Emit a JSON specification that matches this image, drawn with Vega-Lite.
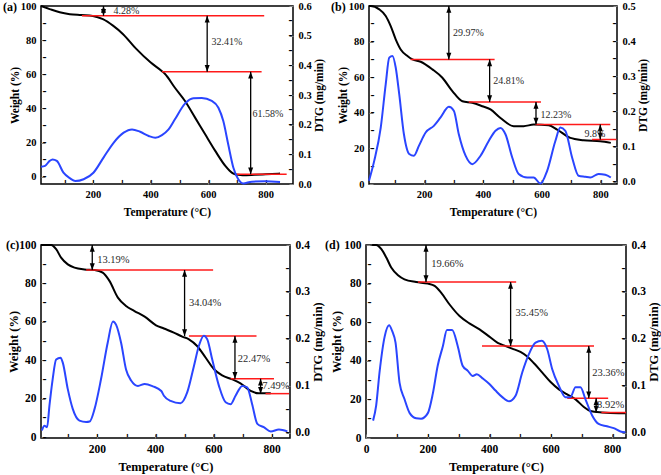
{
  "$schema": "https://vega.github.io/schema/vega-lite/v6.json",
  "padding": {"left": 2, "top": 0, "right": 2, "bottom": 2},
  "config": {
    "font": "Liberation Serif",
    "axis": {"grid": false, "labelPadding": 9, "tickSize": -4, "domain": false,
      "labelFont": "Liberation Serif", "labelFontWeight": "bold", "labelFontSize": 10.5, "labelColor": "black",
      "titleFont": "Liberation Serif", "titleFontWeight": "bold", "titleFontSize": 11.5, "titleColor": "black",
      "labelFlush": false, "labelOverlap": false},
    "title": {"font": "Liberation Serif", "fontWeight": "bold", "fontSize": 12, "color": "black", "anchor": "start", "frame": "group", "offset": -13}
  },
  "vconcat": [
    {
      "hconcat": [
        {
          "width": 252, "height": 178,
          "view": {"stroke": "black", "strokeWidth": 1.5},
          "title": {"text": "(a)", "dx": -38},
          "layer": [
            {"data": {"values": [{"T":20,"W":100},{"T":50,"W":98.2},{"T":85,"W":96.3},{"T":120,"W":95.2},{"T":160,"W":94.7},{"T":200,"W":94.2},{"T":235,"W":92.3},{"T":270,"W":88.5},{"T":305,"W":83.5},{"T":350,"W":75},{"T":400,"W":67},{"T":440,"W":61.8},{"T":450,"W":60.3},{"T":485,"W":52.1},{"T":520,"W":44.3},{"T":555,"W":34.6},{"T":590,"W":24.8},{"T":625,"W":15.1},{"T":660,"W":6.3},{"T":675,"W":3.5},{"T":688,"W":1.8},{"T":705,"W":1.1},{"T":720,"W":0.9},{"T":760,"W":1.1},{"T":800,"W":1.4},{"T":850,"W":1.8}]},
             "mark": {"type": "line", "color": "black", "strokeWidth": 2, "interpolate": "monotone"},
             "encoding": {
               "x": {"field": "T", "type": "quantitative", "scale": {"domain": [20, 895], "nice": false, "zero": false},
                 "axis": {"title": "Temperature (°C)", "orient": "bottom", "values": [200,400,600,800], "format": "d", "titlePadding": 7}},
               "y": {"field": "W", "type": "quantitative", "scale": {"domain": [-4.3, 100], "nice": false, "zero": false},
                 "axis": {"title": "Weight (%)", "orient": "left", "values": [0,20,40,60,80,100], "format": "d", "titlePadding": 0}}
             }},
            {"data": {"values": [{"x":162,"x2":795,"y":94.3},{"x":440,"x2":786,"y":61.5},{"x":700,"x2":873,"y":1.4}]},
             "mark": {"type": "rule", "color": "#ff1a1a", "strokeWidth": 1.5},
             "encoding": {"x": {"field": "x", "type": "quantitative", "axis": {"orient": "bottom", "values": [100,200,300,400,500,600,700,800], "labelExpr": "'–'", "labelAngle": 90, "labelAlign": "right", "labelBaseline": "middle", "labelPadding": -1, "labelFont": "DejaVu Sans", "labelFontSize": 8, "labelFontWeight": "bold", "ticks": false, "tickSize": 0, "domain": false, "title": null}}, "x2": {"field": "x2"}, "y": {"field": "y", "type": "quantitative", "axis": null, "scale": {"domain": [-4.3, 100], "nice": false, "zero": false}}}},
            {"data": {"values": [{"x":237,"y":100,"y2":94.3},{"x":597,"y":94.3,"y2":61.5},{"x":748,"y":61.5,"y2":1.4}]},
             "mark": {"type": "rule", "color": "black", "strokeWidth": 1.3},
             "encoding": {"x": {"field": "x", "type": "quantitative", "axis": null}, "y": {"field": "y", "type": "quantitative", "scale": {"domain": [-4.3, 100], "nice": false, "zero": false}, "axis": {"orient": "left", "values": [0,10,20,30,40,50,60,70,80,90], "labelExpr": "'–'", "labelAlign": "left", "labelBaseline": "middle", "labelPadding": -1, "labelFont": "DejaVu Sans", "labelFontSize": 8, "labelFontWeight": "bold", "ticks": false, "tickSize": 0, "domain": false, "title": null}}, "y2": {"field": "y2"}}},
            {"data": {"values": [{"x":237,"y":100},{"x":597,"y":94.3},{"x":748,"y":61.5}]},
             "mark": {"type": "point", "shape": "M0,0L-1,2.7L1,2.7Z", "filled": true, "color": "black", "size": 25, "opacity": 1, "strokeWidth": 0},
             "encoding": {"x": {"field": "x", "type": "quantitative", "axis": null}, "y": {"field": "y", "type": "quantitative", "axis": null, "scale": {"domain": [-4.3, 100], "nice": false, "zero": false}}}},
            {"data": {"values": [{"x":237,"y":94.3},{"x":597,"y":61.5},{"x":748,"y":1.4}]},
             "mark": {"type": "point", "shape": "M0,0L-1,-2.7L1,-2.7Z", "filled": true, "color": "black", "size": 25, "opacity": 1, "strokeWidth": 0},
             "encoding": {"x": {"field": "x", "type": "quantitative", "axis": null}, "y": {"field": "y", "type": "quantitative", "axis": null, "scale": {"domain": [-4.3, 100], "nice": false, "zero": false}}}},
            {"data": {"values": [{"x":272,"y":97,"t":"4.28%"},{"x":612,"y":79,"t":"32.41%"},{"x":754,"y":37,"t":"61.58%"}]},
             "mark": {"type": "text", "align": "left", "baseline": "middle", "font": "Liberation Serif", "fontSize": 10, "color": "#2b2b2b"},
             "encoding": {"x": {"field": "x", "type": "quantitative", "axis": null}, "y": {"field": "y", "type": "quantitative", "axis": null, "scale": {"domain": [-4.3, 100], "nice": false, "zero": false}}, "text": {"field": "t"}}},
            {"data": {"values": [{"T":20,"D":0.058},{"T":34,"D":0.061},{"T":50,"D":0.078},{"T":60,"D":0.083},{"T":75,"D":0.078},{"T":98,"D":0.038},{"T":121,"D":0.019},{"T":139,"D":0.010},{"T":168,"D":0.016},{"T":202,"D":0.038},{"T":237,"D":0.089},{"T":272,"D":0.139},{"T":307,"D":0.173},{"T":336,"D":0.184},{"T":364,"D":0.176},{"T":394,"D":0.162},{"T":417,"D":0.156},{"T":440,"D":0.165},{"T":463,"D":0.184},{"T":485,"D":0.218},{"T":520,"D":0.271},{"T":549,"D":0.289},{"T":578,"D":0.290},{"T":613,"D":0.280},{"T":636,"D":0.257},{"T":653,"D":0.212},{"T":670,"D":0.134},{"T":688,"D":0.055},{"T":705,"D":0.016},{"T":722,"D":0.002},{"T":752,"D":0.008},{"T":798,"D":0.009},{"T":850,"D":0.007}]},
             "mark": {"type": "line", "color": "#2a45ff", "strokeWidth": 2, "interpolate": "monotone"},
             "encoding": {
               "x": {"field": "T", "type": "quantitative", "axis": null},
               "y": {"field": "D", "type": "quantitative", "scale": {"domain": [0, 0.6], "nice": false, "zero": false},
                 "axis": {"title": "DTG (mg/min)", "orient": "right", "values": [0,0.1,0.2,0.3,0.4,0.5,0.6], "format": ".1f", "titleAngle": 270, "titleBaseline": "top", "titlePadding": 2}}
             }},
            {"data": {"values": [{}]},
             "mark": {"type": "point", "opacity": 0},
             "encoding": {"y": {"datum": 0, "type": "quantitative", "scale": {"domain": [0, 0.6], "nice": false, "zero": false},
               "axis": {"orient": "right", "values": [0.05,0.1,0.15,0.2,0.25,0.3,0.35,0.4,0.45,0.5,0.55], "labelExpr": "'–'", "labelAlign": "right", "labelBaseline": "middle", "labelPadding": -1, "labelFont": "DejaVu Sans", "labelFontSize": 8, "labelFontWeight": "bold", "ticks": false, "tickSize": 0, "domain": false, "title": null}}}}
          ],
          "resolve": {"scale": {"y": "independent"}, "axis": {"x": "independent", "y": "independent"}}
        },
        {
          "width": 248, "height": 178,
          "view": {"stroke": "black", "strokeWidth": 1.5},
          "title": {"text": "(b)", "dx": -38},
          "layer": [
            {"data": {"values": [{"T":12,"W":100},{"T":18,"W":100},{"T":47,"W":98.1},{"T":69,"W":94.4},{"T":86,"W":88.7},{"T":103,"W":81.3},{"T":120,"W":75.6},{"T":143,"W":71.9},{"T":160,"W":70},{"T":188,"W":68.7},{"T":228,"W":64.4},{"T":262,"W":59.7},{"T":296,"W":52.2},{"T":330,"W":46.5},{"T":364,"W":45.6},{"T":398,"W":43.7},{"T":426,"W":41.9},{"T":460,"W":37.1},{"T":505,"W":32.5},{"T":539,"W":32.5},{"T":573,"W":33.4},{"T":624,"W":33},{"T":653,"W":30.6},{"T":698,"W":25.9},{"T":743,"W":24.6},{"T":800,"W":24},{"T":836,"W":23.1}]},
             "mark": {"type": "line", "color": "black", "strokeWidth": 2, "interpolate": "monotone"},
             "encoding": {
               "x": {"field": "T", "type": "quantitative", "scale": {"domain": [12, 857], "nice": false, "zero": false},
                 "axis": {"title": "Temperature (°C)", "orient": "bottom", "values": [200,400,600,800], "format": "d", "titlePadding": 7}},
               "y": {"field": "W", "type": "quantitative", "scale": {"domain": [0, 100], "nice": false, "zero": false},
                 "axis": {"title": "Weight (%)", "orient": "left", "values": [0,20,40,60,80,100], "format": "d", "titlePadding": 0}}
             }},
            {"data": {"values": [{"x":154,"x2":440,"y":70},{"x":352,"x2":598,"y":46.1},{"x":579,"x2":834,"y":33.4},{"x":772,"x2":855,"y":25}]},
             "mark": {"type": "rule", "color": "#ff1a1a", "strokeWidth": 1.5},
             "encoding": {"x": {"field": "x", "type": "quantitative", "axis": {"orient": "bottom", "values": [100,200,300,400,500,600,700,800], "labelExpr": "'–'", "labelAngle": 90, "labelAlign": "right", "labelBaseline": "middle", "labelPadding": -1, "labelFont": "DejaVu Sans", "labelFontSize": 8, "labelFontWeight": "bold", "ticks": false, "tickSize": 0, "domain": false, "title": null}}, "x2": {"field": "x2"}, "y": {"field": "y", "type": "quantitative", "axis": null, "scale": {"domain": [0, 100], "nice": false, "zero": false}}}},
            {"data": {"values": [{"x":284,"y":100,"y2":70},{"x":423,"y":70,"y2":46.1},{"x":581,"y":46.1,"y2":33.4},{"x":800,"y":33.4,"y2":25}]},
             "mark": {"type": "rule", "color": "black", "strokeWidth": 1.3},
             "encoding": {"x": {"field": "x", "type": "quantitative", "axis": null}, "y": {"field": "y", "type": "quantitative", "scale": {"domain": [0, 100], "nice": false, "zero": false}, "axis": {"orient": "left", "values": [10,20,30,40,50,60,70,80,90], "labelExpr": "'–'", "labelAlign": "left", "labelBaseline": "middle", "labelPadding": -1, "labelFont": "DejaVu Sans", "labelFontSize": 8, "labelFontWeight": "bold", "ticks": false, "tickSize": 0, "domain": false, "title": null}}, "y2": {"field": "y2"}}},
            {"data": {"values": [{"x":284,"y":100},{"x":423,"y":70},{"x":581,"y":46.1},{"x":800,"y":33.4}]},
             "mark": {"type": "point", "shape": "M0,0L-1,2.7L1,2.7Z", "filled": true, "color": "black", "size": 25, "opacity": 1, "strokeWidth": 0},
             "encoding": {"x": {"field": "x", "type": "quantitative", "axis": null}, "y": {"field": "y", "type": "quantitative", "axis": null, "scale": {"domain": [0, 100], "nice": false, "zero": false}}}},
            {"data": {"values": [{"x":284,"y":70},{"x":423,"y":46.1},{"x":581,"y":33.4},{"x":800,"y":25}]},
             "mark": {"type": "point", "shape": "M0,0L-1,-2.7L1,-2.7Z", "filled": true, "color": "black", "size": 25, "opacity": 1, "strokeWidth": 0},
             "encoding": {"x": {"field": "x", "type": "quantitative", "axis": null}, "y": {"field": "y", "type": "quantitative", "axis": null, "scale": {"domain": [0, 100], "nice": false, "zero": false}}}},
            {"data": {"values": [{"x":298,"y":84.6,"t":"29.97%"},{"x":435,"y":57.8,"t":"24.81%"},{"x":596,"y":38.5,"t":"12.23%"},{"x":746,"y":28.1,"t":"9.8%"}]},
             "mark": {"type": "text", "align": "left", "baseline": "middle", "font": "Liberation Serif", "fontSize": 10, "color": "#2b2b2b"},
             "encoding": {"x": {"field": "x", "type": "quantitative", "axis": null}, "y": {"field": "y", "type": "quantitative", "axis": null, "scale": {"domain": [0, 100], "nice": false, "zero": false}}, "text": {"field": "t"}}},
            {"data": {"values": [{"T":12,"D":0.003},{"T":30,"D":0.06},{"T":52,"D":0.154},{"T":69,"D":0.278},{"T":81,"D":0.353},{"T":92,"D":0.358},{"T":103,"D":0.325},{"T":115,"D":0.249},{"T":131,"D":0.135},{"T":149,"D":0.079},{"T":165,"D":0.074},{"T":182,"D":0.102},{"T":205,"D":0.14},{"T":233,"D":0.159},{"T":256,"D":0.183},{"T":284,"D":0.213},{"T":301,"D":0.202},{"T":318,"D":0.135},{"T":341,"D":0.074},{"T":364,"D":0.05},{"T":392,"D":0.074},{"T":420,"D":0.116},{"T":443,"D":0.145},{"T":460,"D":0.153},{"T":477,"D":0.135},{"T":500,"D":0.069},{"T":522,"D":0.022},{"T":551,"D":0.012},{"T":573,"D":0.012},{"T":596,"D":-0.005},{"T":619,"D":0.031},{"T":647,"D":0.116},{"T":664,"D":0.154},{"T":681,"D":0.145},{"T":704,"D":0.069},{"T":726,"D":0.017},{"T":749,"D":0.014},{"T":766,"D":0.012},{"T":794,"D":0.022},{"T":817,"D":0.02},{"T":836,"D":0.012}]},
             "mark": {"type": "line", "color": "#2a45ff", "strokeWidth": 2, "interpolate": "monotone"},
             "encoding": {
               "x": {"field": "T", "type": "quantitative", "axis": null},
               "y": {"field": "D", "type": "quantitative", "scale": {"domain": [-0.0065, 0.5], "nice": false, "zero": false},
                 "axis": {"title": "DTG (mg/min)", "orient": "right", "values": [0,0.1,0.2,0.3,0.4,0.5], "format": ".1f", "titleAngle": 270, "titleBaseline": "top", "titlePadding": 2}}
             }},
            {"data": {"values": [{}]},
             "mark": {"type": "point", "opacity": 0},
             "encoding": {"y": {"datum": 0, "type": "quantitative", "scale": {"domain": [-0.0065, 0.5], "nice": false, "zero": false},
               "axis": {"orient": "right", "values": [0,0.05,0.1,0.15,0.2,0.25,0.3,0.35,0.4,0.45], "labelExpr": "'–'", "labelAlign": "right", "labelBaseline": "middle", "labelPadding": -1, "labelFont": "DejaVu Sans", "labelFontSize": 8, "labelFontWeight": "bold", "ticks": false, "tickSize": 0, "domain": false, "title": null}}}}
          ],
          "resolve": {"scale": {"y": "independent"}, "axis": {"x": "independent", "y": "independent"}}
        }
      ],
      "spacing": 76,
      "bounds": "flush"
    },
    {
      "hconcat": [
        {
          "width": 249, "height": 193,
          "view": {"stroke": "black", "strokeWidth": 1.5},
          "title": {"text": "(c)", "dx": -35},
          "layer": [
            {"data": {"values": [{"T":8,"W":100},{"T":43,"W":100},{"T":60,"W":97.8},{"T":77,"W":93.4},{"T":100,"W":89.9},{"T":123,"W":88.2},{"T":157,"W":87.3},{"T":192,"W":87},{"T":220,"W":85.6},{"T":243,"W":81.3},{"T":272,"W":72.6},{"T":300,"W":68.2},{"T":329,"W":65.6},{"T":364,"W":62.7},{"T":403,"W":58.2},{"T":430,"W":56.5},{"T":464,"W":54.4},{"T":493,"W":52.3},{"T":516,"W":50.9},{"T":544,"W":47.4},{"T":573,"W":41.4},{"T":602,"W":35.3},{"T":630,"W":32.1},{"T":665,"W":30},{"T":693,"W":28},{"T":728,"W":24},{"T":756,"W":22.8},{"T":797,"W":22.8}]},
             "mark": {"type": "line", "color": "black", "strokeWidth": 2, "interpolate": "monotone"},
             "encoding": {
               "x": {"field": "T", "type": "quantitative", "scale": {"domain": [8, 863], "nice": false, "zero": false},
                 "axis": {"title": "Temperature (°C)", "orient": "bottom", "values": [200,400,600,800], "format": "d", "titlePadding": 6, "labelFontSize": 11.5, "titleFontSize": 12.5}},
               "y": {"field": "W", "type": "quantitative", "scale": {"domain": [-0.5, 100], "nice": false, "zero": false},
                 "axis": {"title": "Weight (%)", "orient": "left", "values": [0,20,40,60,80,100], "format": "d", "titlePadding": -2, "labelFontSize": 11.5, "titleFontSize": 12.5}}
             }},
            {"data": {"values": [{"x":163,"x2":599,"y":87},{"x":516,"x2":748,"y":52.6},{"x":659,"x2":808,"y":30.4},{"x":779,"x2":860,"y":22.6}]},
             "mark": {"type": "rule", "color": "#ff1a1a", "strokeWidth": 1.5},
             "encoding": {"x": {"field": "x", "type": "quantitative", "axis": {"orient": "bottom", "values": [100,200,300,400,500,600,700,800], "labelExpr": "'–'", "labelAngle": 90, "labelAlign": "right", "labelBaseline": "middle", "labelPadding": -1, "labelFont": "DejaVu Sans", "labelFontSize": 8, "labelFontWeight": "bold", "ticks": false, "tickSize": 0, "domain": false, "title": null}}, "x2": {"field": "x2"}, "y": {"field": "y", "type": "quantitative", "axis": null, "scale": {"domain": [-0.5, 100], "nice": false, "zero": false}}}},
            {"data": {"values": [{"x":184,"y":100,"y2":87},{"x":501,"y":87,"y2":52.6},{"x":674,"y":52.6,"y2":30.4},{"x":762,"y":30.4,"y2":22.6}]},
             "mark": {"type": "rule", "color": "black", "strokeWidth": 1.3},
             "encoding": {"x": {"field": "x", "type": "quantitative", "axis": null}, "y": {"field": "y", "type": "quantitative", "scale": {"domain": [-0.5, 100], "nice": false, "zero": false}, "axis": {"orient": "left", "values": [0,10,20,30,40,50,60,70,80,90], "labelExpr": "'–'", "labelAlign": "left", "labelBaseline": "middle", "labelPadding": -1, "labelFont": "DejaVu Sans", "labelFontSize": 8, "labelFontWeight": "bold", "ticks": false, "tickSize": 0, "domain": false, "title": null}}, "y2": {"field": "y2"}}},
            {"data": {"values": [{"x":184,"y":100},{"x":501,"y":87},{"x":674,"y":52.6},{"x":762,"y":30.4}]},
             "mark": {"type": "point", "shape": "M0,0L-1,2.7L1,2.7Z", "filled": true, "color": "black", "size": 25, "opacity": 1, "strokeWidth": 0},
             "encoding": {"x": {"field": "x", "type": "quantitative", "axis": null}, "y": {"field": "y", "type": "quantitative", "axis": null, "scale": {"domain": [-0.5, 100], "nice": false, "zero": false}}}},
            {"data": {"values": [{"x":184,"y":87},{"x":501,"y":52.6},{"x":674,"y":30.4},{"x":762,"y":22.6}]},
             "mark": {"type": "point", "shape": "M0,0L-1,-2.7L1,-2.7Z", "filled": true, "color": "black", "size": 25, "opacity": 1, "strokeWidth": 0},
             "encoding": {"x": {"field": "x", "type": "quantitative", "axis": null}, "y": {"field": "y", "type": "quantitative", "axis": null, "scale": {"domain": [-0.5, 100], "nice": false, "zero": false}}}},
            {"data": {"values": [{"x":201,"y":92.2,"t":"13.19%"},{"x":516,"y":70,"t":"34.04%"},{"x":684,"y":40.8,"t":"22.47%"},{"x":768,"y":26.6,"t":"7.49%"}]},
             "mark": {"type": "text", "align": "left", "baseline": "middle", "font": "Liberation Serif", "fontSize": 10.5, "color": "#2b2b2b"},
             "encoding": {"x": {"field": "x", "type": "quantitative", "axis": null}, "y": {"field": "y", "type": "quantitative", "axis": null, "scale": {"domain": [-0.5, 100], "nice": false, "zero": false}}, "text": {"field": "t"}}},
            {"data": {"values": [{"T":11,"D":0.005},{"T":20,"D":0.015},{"T":29,"D":0.012},{"T":37,"D":0.058},{"T":48,"D":0.114},{"T":60,"D":0.156},{"T":75,"D":0.16},{"T":83,"D":0.149},{"T":100,"D":0.093},{"T":117,"D":0.051},{"T":140,"D":0.026},{"T":163,"D":0.023},{"T":175,"D":0.024},{"T":192,"D":0.051},{"T":214,"D":0.114},{"T":237,"D":0.192},{"T":255,"D":0.237},{"T":266,"D":0.23},{"T":283,"D":0.192},{"T":300,"D":0.135},{"T":318,"D":0.111},{"T":341,"D":0.1},{"T":364,"D":0.104},{"T":392,"D":0.099},{"T":421,"D":0.089},{"T":430,"D":0.079},{"T":453,"D":0.068},{"T":487,"D":0.063},{"T":510,"D":0.086},{"T":533,"D":0.142},{"T":550,"D":0.185},{"T":567,"D":0.207},{"T":579,"D":0.199},{"T":596,"D":0.156},{"T":619,"D":0.1},{"T":642,"D":0.065},{"T":659,"D":0.061},{"T":676,"D":0.079},{"T":699,"D":0.1},{"T":716,"D":0.097},{"T":733,"D":0.061},{"T":751,"D":0.019},{"T":773,"D":0.012},{"T":797,"D":0.003},{"T":825,"D":0.007},{"T":854,"D":0.003}]},
             "mark": {"type": "line", "color": "#2a45ff", "strokeWidth": 2, "interpolate": "monotone"},
             "encoding": {
               "x": {"field": "T", "type": "quantitative", "axis": null},
               "y": {"field": "D", "type": "quantitative", "scale": {"domain": [-0.011, 0.4], "nice": false, "zero": false},
                 "axis": {"title": "DTG (mg/min)", "orient": "right", "values": [0,0.1,0.2,0.3,0.4], "format": ".1f", "titleAngle": 270, "titleBaseline": "top", "titlePadding": 2, "labelFontSize": 11.5, "titleFontSize": 12.5}}
             }},
            {"data": {"values": [{}]},
             "mark": {"type": "point", "opacity": 0},
             "encoding": {"y": {"datum": 0, "type": "quantitative", "scale": {"domain": [-0.011, 0.4], "nice": false, "zero": false},
               "axis": {"orient": "right", "values": [0,0.05,0.15,0.2,0.25,0.3,0.35], "labelExpr": "'–'", "labelAlign": "right", "labelBaseline": "middle", "labelPadding": -1, "labelFont": "DejaVu Sans", "labelFontSize": 8, "labelFontWeight": "bold", "ticks": false, "tickSize": 0, "domain": false, "title": null}}}}
          ],
          "resolve": {"scale": {"y": "independent"}, "axis": {"x": "independent", "y": "independent"}}
        },
        {
          "width": 260, "height": 193,
          "view": {"stroke": "black", "strokeWidth": 1.5},
          "title": {"text": "(d)", "dx": -41},
          "layer": [
            {"data": {"values": [{"T":20,"W":100},{"T":33,"W":100},{"T":50,"W":97.8},{"T":66,"W":93.5},{"T":82,"W":88.3},{"T":104,"W":84.3},{"T":125,"W":82.2},{"T":163,"W":80.8},{"T":201,"W":80},{"T":223,"W":78.8},{"T":244,"W":75.3},{"T":271,"W":69.3},{"T":304,"W":63.2},{"T":336,"W":59.4},{"T":369,"W":56.3},{"T":401,"W":52.5},{"T":428,"W":49.3},{"T":448,"W":48},{"T":475,"W":46.3},{"T":502,"W":44.6},{"T":524,"W":42.2},{"T":546,"W":38.7},{"T":573,"W":33.9},{"T":600,"W":29},{"T":627,"W":25.2},{"T":654,"W":22.6},{"T":681,"W":20},{"T":708,"W":16.1},{"T":729,"W":14},{"T":767,"W":13.2},{"T":821,"W":12.8},{"T":843,"W":12.8}]},
             "mark": {"type": "line", "color": "black", "strokeWidth": 2, "interpolate": "monotone"},
             "encoding": {
               "x": {"field": "T", "type": "quantitative", "scale": {"domain": [0, 845], "nice": false, "zero": false},
                 "axis": {"title": "Temperature (°C)", "orient": "bottom", "values": [0,200,400,600,800], "format": "d", "titlePadding": 6, "labelFontSize": 11.5, "titleFontSize": 12.5}},
               "y": {"field": "W", "type": "quantitative", "scale": {"domain": [0, 100], "nice": false, "zero": false},
                 "axis": {"title": "Weight (%)", "orient": "left", "values": [0,20,40,60,80,100], "format": "d", "titlePadding": 0, "labelFontSize": 11.5, "titleFontSize": 12.5}}
             }},
            {"data": {"values": [{"x":169,"x2":488,"y":80.8},{"x":377,"x2":741,"y":47.7},{"x":654,"x2":787,"y":20.6},{"x":765,"x2":845,"y":13.2}]},
             "mark": {"type": "rule", "color": "#ff1a1a", "strokeWidth": 1.5},
             "encoding": {"x": {"field": "x", "type": "quantitative", "axis": {"orient": "bottom", "values": [100,200,300,400,500,600,700,800], "labelExpr": "'–'", "labelAngle": 90, "labelAlign": "right", "labelBaseline": "middle", "labelPadding": -1, "labelFont": "DejaVu Sans", "labelFontSize": 8, "labelFontWeight": "bold", "ticks": false, "tickSize": 0, "domain": false, "title": null}}, "x2": {"field": "x2"}, "y": {"field": "y", "type": "quantitative", "axis": null, "scale": {"domain": [0, 100], "nice": false, "zero": false}}}},
            {"data": {"values": [{"x":195,"y":100,"y2":80.8},{"x":470,"y":80.8,"y2":47.7},{"x":724,"y":47.7,"y2":20.6},{"x":748,"y":20.6,"y2":13.2}]},
             "mark": {"type": "rule", "color": "black", "strokeWidth": 1.3},
             "encoding": {"x": {"field": "x", "type": "quantitative", "axis": null}, "y": {"field": "y", "type": "quantitative", "scale": {"domain": [0, 100], "nice": false, "zero": false}, "axis": {"orient": "left", "values": [10,20,30,40,50,60,70,80,90], "labelExpr": "'–'", "labelAlign": "left", "labelBaseline": "middle", "labelPadding": -1, "labelFont": "DejaVu Sans", "labelFontSize": 8, "labelFontWeight": "bold", "ticks": false, "tickSize": 0, "domain": false, "title": null}}, "y2": {"field": "y2"}}},
            {"data": {"values": [{"x":195,"y":100},{"x":470,"y":80.8},{"x":724,"y":47.7},{"x":748,"y":20.6}]},
             "mark": {"type": "point", "shape": "M0,0L-1,2.7L1,2.7Z", "filled": true, "color": "black", "size": 25, "opacity": 1, "strokeWidth": 0},
             "encoding": {"x": {"field": "x", "type": "quantitative", "axis": null}, "y": {"field": "y", "type": "quantitative", "axis": null, "scale": {"domain": [0, 100], "nice": false, "zero": false}}}},
            {"data": {"values": [{"x":195,"y":80.8},{"x":470,"y":47.7},{"x":724,"y":20.6},{"x":748,"y":13.2}]},
             "mark": {"type": "point", "shape": "M0,0L-1,-2.7L1,-2.7Z", "filled": true, "color": "black", "size": 25, "opacity": 1, "strokeWidth": 0},
             "encoding": {"x": {"field": "x", "type": "quantitative", "axis": null}, "y": {"field": "y", "type": "quantitative", "axis": null, "scale": {"domain": [0, 100], "nice": false, "zero": false}}}},
            {"data": {"values": [{"x":212,"y":90.4,"t":"19.66%"},{"x":486,"y":65,"t":"35.45%"},{"x":735,"y":33.5,"t":"23.36%"},{"x":751,"y":17,"t":"8.92%"}]},
             "mark": {"type": "text", "align": "left", "baseline": "middle", "font": "Liberation Serif", "fontSize": 10.5, "color": "#2b2b2b"},
             "encoding": {"x": {"field": "x", "type": "quantitative", "axis": null}, "y": {"field": "y", "type": "quantitative", "axis": null, "scale": {"domain": [0, 100], "nice": false, "zero": false}}, "text": {"field": "t"}}},
            {"data": {"values": [{"T":23,"D":0.026},{"T":33,"D":0.058},{"T":44,"D":0.129},{"T":61,"D":0.206},{"T":75,"D":0.229},{"T":85,"D":0.217},{"T":96,"D":0.192},{"T":109,"D":0.107},{"T":125,"D":0.072},{"T":142,"D":0.042},{"T":163,"D":0.031},{"T":179,"D":0.03},{"T":201,"D":0.042},{"T":217,"D":0.083},{"T":233,"D":0.143},{"T":250,"D":0.185},{"T":263,"D":0.219},{"T":280,"D":0.219},{"T":298,"D":0.185},{"T":314,"D":0.143},{"T":331,"D":0.132},{"T":347,"D":0.121},{"T":360,"D":0.125},{"T":379,"D":0.116},{"T":401,"D":0.104},{"T":421,"D":0.09},{"T":443,"D":0.076},{"T":465,"D":0.067},{"T":486,"D":0.079},{"T":508,"D":0.129},{"T":529,"D":0.167},{"T":551,"D":0.192},{"T":571,"D":0.196},{"T":589,"D":0.178},{"T":605,"D":0.136},{"T":627,"D":0.1},{"T":648,"D":0.076},{"T":664,"D":0.076},{"T":681,"D":0.097},{"T":697,"D":0.097},{"T":713,"D":0.072},{"T":735,"D":0.037},{"T":756,"D":0.019},{"T":783,"D":0.014},{"T":805,"D":0.01},{"T":827,"D":0.003},{"T":843,"D":0.001}]},
             "mark": {"type": "line", "color": "#2a45ff", "strokeWidth": 2, "interpolate": "monotone"},
             "encoding": {
               "x": {"field": "T", "type": "quantitative", "axis": null},
               "y": {"field": "D", "type": "quantitative", "scale": {"domain": [-0.011, 0.4], "nice": false, "zero": false},
                 "axis": {"title": "DTG (mg/min)", "orient": "right", "values": [0,0.1,0.2,0.3,0.4], "format": ".1f", "titleAngle": 270, "titleBaseline": "top", "titlePadding": 2, "labelFontSize": 11.5, "titleFontSize": 12.5}}
             }},
            {"data": {"values": [{}]},
             "mark": {"type": "point", "opacity": 0},
             "encoding": {"y": {"datum": 0, "type": "quantitative", "scale": {"domain": [-0.011, 0.4], "nice": false, "zero": false},
               "axis": {"orient": "right", "values": [0,0.1,0.15,0.2,0.25,0.3,0.35], "labelExpr": "'–'", "labelAlign": "right", "labelBaseline": "middle", "labelPadding": -1, "labelFont": "DejaVu Sans", "labelFontSize": 8, "labelFontWeight": "bold", "ticks": false, "tickSize": 0, "domain": false, "title": null}}}}
          ],
          "resolve": {"scale": {"y": "independent"}, "axis": {"x": "independent", "y": "independent"}}
        }
      ],
      "spacing": 76,
      "bounds": "flush"
    }
  ],
  "spacing": 19
}
